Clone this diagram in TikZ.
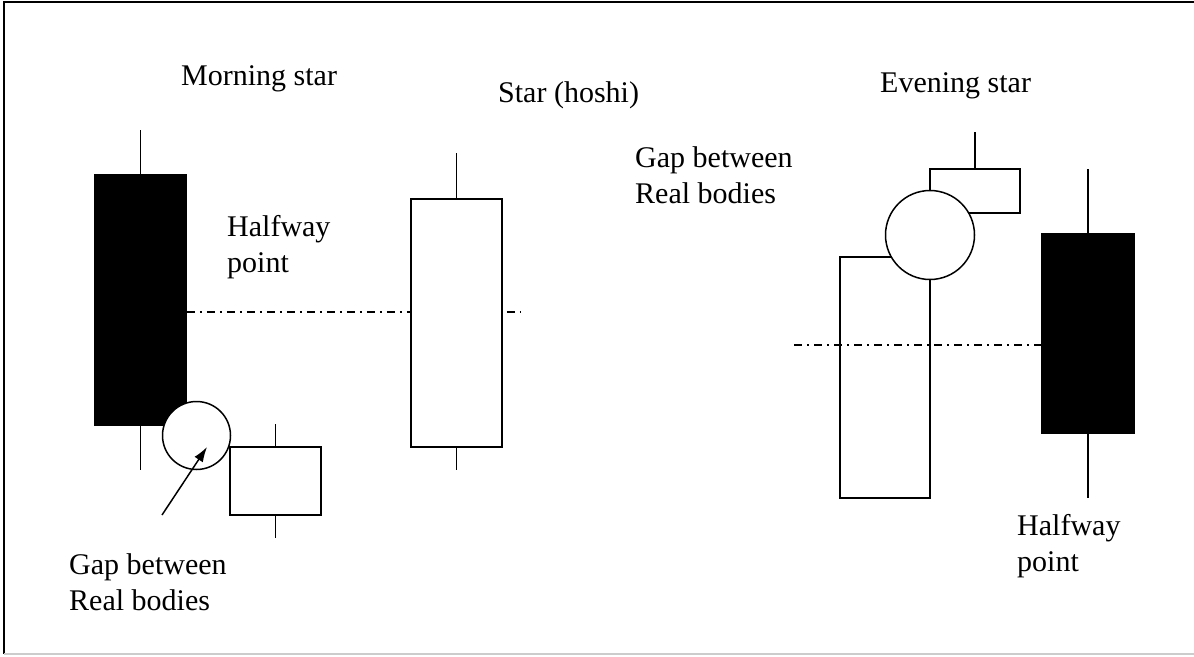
\documentclass[tikz,border=0pt]{standalone}
\usepackage{fontspec}
\setmainfont{Liberation Serif}
\usepackage{tikz}
\usetikzlibrary{arrows.meta}
\usetikzlibrary{positioning}
\tikzset{%
	>={Latex[width=10pt,length=15pt]},
	% Specifications for style of nodes:
	body/.style = {rectangle, draw=black, line width=1.5pt,
				   inner sep=0pt, minimum width=91pt},
	bull/.style = {body, fill=white},
	bear/.style = {body, fill=black},
	gapmark/.style = {circle, draw=black, fill=white, line width=1.5pt,
					  inner sep=0pt},
	caption/.style = {anchor=base west, align=left, inner sep=0pt,
					  font=\fontsize{30}{36}\selectfont},
	wick/.style = {line width=1.5pt},
	halfline/.style = {line width=1.3pt,
					   dash pattern=on 8pt off 5pt on 2pt off 5pt},
}
\begin{document}
\begin{tikzpicture}[x=1pt, y=-1pt]

	\useasboundingbox (0,0) rectangle (1194,656);
	\draw[line width=2.5pt] (1194,2) -- (4,2) -- (4,654);
	\draw[line width=1.5pt, black!20] (4,654) -- (1194,654);

	% Morning star

	\node (morningText)	[caption] at (181,85)	{Morning star};
	\node (morningBody)	[bear, minimum height=250pt] at (140.5,300) {};
	\node (morningStar)	[bull, minimum height=68pt] at (275.5,481) {};
	\node (morningGap)	[gapmark, minimum size=68pt] at (196.5,435.5) {};
	% base of a two-line caption = baseline of its last line
	\node (halfLeft)	[caption] at (227,272)	{Halfway\\point};
	\node (gapLeft)		[caption] at (69,610)	{Gap between\\Real bodies};

	\coordinate (morningHigh)	at (140.5,130);
	\coordinate (morningLow)	at (140.5,470);
	\coordinate (starHigh)		at (275.5,424);
	\coordinate (starLow)		at (275.5,538);
	\coordinate (gapFoot)		at (162,515);
	\coordinate (gapTip)		at (207,447);
	\coordinate (halfEndA)		at (520,312);

	\draw[wick]	(morningBody.north) -- (morningHigh);
	\draw[wick]	(morningBody.south) -- (morningLow);
	\draw[wick]	(morningStar.north) -- (starHigh);
	\draw[wick]	(morningStar.south) -- (starLow);
	\draw[halfline]	(morningBody.east |- halfEndA) -- (halfEndA);
	\draw[->, line width=1.5pt]	(gapFoot) -- (gapTip);

	% Star (hoshi)

	\node (hoshiText)	[caption] at (498,102)	{Star (hoshi)};
	\node (hoshiBody)	[bull, minimum height=248pt] at (456.5,323) {};
	\coordinate (hoshiHigh)	at (456.5,153);
	\coordinate (hoshiLow)	at (456.5,470);
	\draw[wick]	(hoshiBody.north) -- (hoshiHigh);
	\draw[wick]	(hoshiBody.south) -- (hoshiLow);

	% Evening star

	\node (eveningText)	[caption] at (880,92)	{Evening star};
	\node (gapRight)	[caption] at (635,203)	{Gap between\\Real bodies};
	\node (eveningBody)	[bull, minimum width=90pt, minimum height=241pt] at (885,377.5) {};
	\node (eveningStar)	[bull, minimum width=90pt, minimum height=44pt] at (975,191) {};
	\node (eveningGap)	[gapmark, minimum size=89pt] at (930,235) {};
	\node (eveningDrop)	[bear, minimum width=92pt, minimum height=199pt] at (1088,333.5) {};
	\node (halfRight)	[caption] at (1017,571)	{Halfway\\point};

	\coordinate (eveningHigh)	at (975,132);
	\coordinate (dropHigh)		at (1088,169);
	\coordinate (dropLow)		at (1088,498);
	\coordinate (halfEndB)		at (794,345);

	\draw[wick]	(eveningStar.north) -- (eveningHigh);
	\draw[wick]	(eveningDrop.north) -- (dropHigh);
	\draw[wick]	(eveningDrop.south) -- (dropLow);
	\draw[halfline]	(halfEndB) -- (eveningDrop.west |- halfEndB);

\end{tikzpicture}
\end{document}
